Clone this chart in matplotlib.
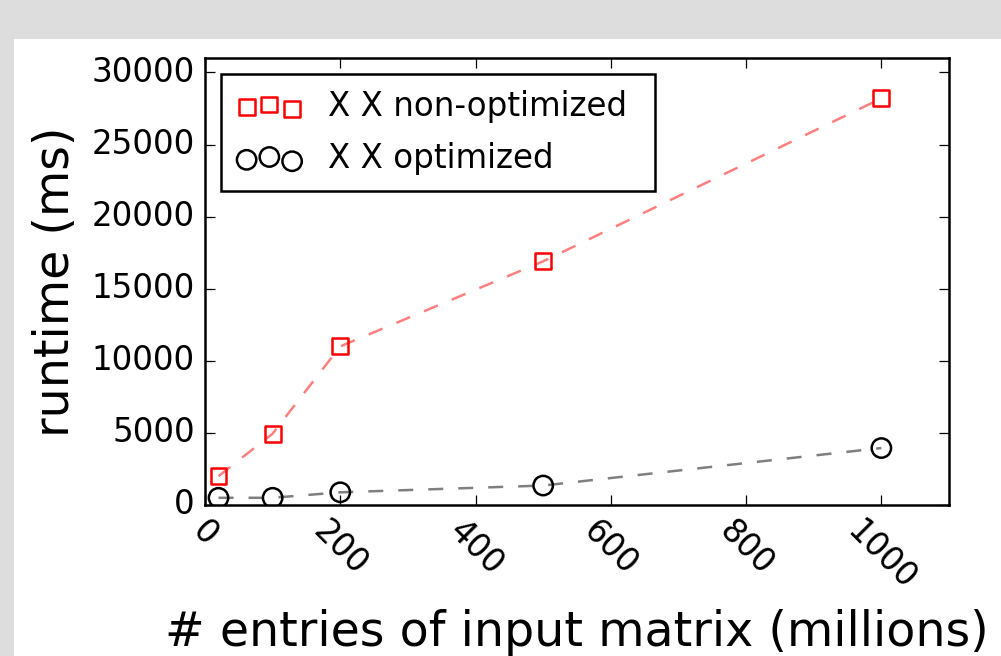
import matplotlib
matplotlib.use("Agg")
import matplotlib.pyplot as plt
from matplotlib.patches import Rectangle

plt.style.use("classic")
plt.rcParams["font.family"] = ["DejaVu Sans"]

# data (millions of entries, runtime ms)
x_vals = [20, 100, 200, 500, 1000]
non_optimized = [2000, 4950, 11000, 16900, 28200]
optimized = [500, 500, 880, 1350, 3950]
x_ticks = [0, 200, 400, 600, 800, 1000]
y_ticks = [0, 5000, 10000, 15000, 20000, 25000, 30000]

DPI = 180
fig = plt.figure(figsize=(1001 / DPI, 656 / DPI), dpi=DPI)
fig.patch.set_facecolor("#dddddd")
fig.add_artist(Rectangle((14 / 1001, 0), 1, 617 / 656, transform=fig.transFigure,
                         facecolor="white", edgecolor="none", zorder=-10))

ax = fig.add_axes([205 / 1001, (656 - 505) / 656, 744 / 1001, 447 / 656])

ax.plot(x_vals, non_optimized, linestyle="--", color="red", alpha=0.5, lw=1.0)
ax.plot(x_vals, optimized, linestyle="--", color="black", alpha=0.5, lw=1.0)
ax.scatter(x_vals, non_optimized, marker="s", s=40, facecolors="none",
           edgecolors="red", linewidths=1.0, label="X X non-optimized", zorder=3)
ax.scatter(x_vals, optimized, marker="o", s=60, facecolors="none",
           edgecolors="black", linewidths=1.0, label="X X optimized", zorder=3)

ax.set_xlim(0, 1100)
ax.set_ylim(0, 31000)
ax.set_xticks(x_ticks)
ax.set_yticks(y_ticks)
ax.tick_params(labelsize=13)
for lab in ax.get_xticklabels():
    lab.set_rotation(-45)

ax.set_xlabel("# entries of input matrix (millions)", fontsize=19)
ax.set_ylabel("runtime (ms)", fontsize=19)

leg = ax.legend(loc="upper left", fontsize=13, scatterpoints=3,
                bbox_to_anchor=(0, 0, 0.6263, 1), mode="expand",
                borderpad=0.48, labelspacing=0.6)
leg.get_frame().set_linewidth(1.0)

fig.savefig("out.png", dpi=DPI, facecolor=fig.get_facecolor())
